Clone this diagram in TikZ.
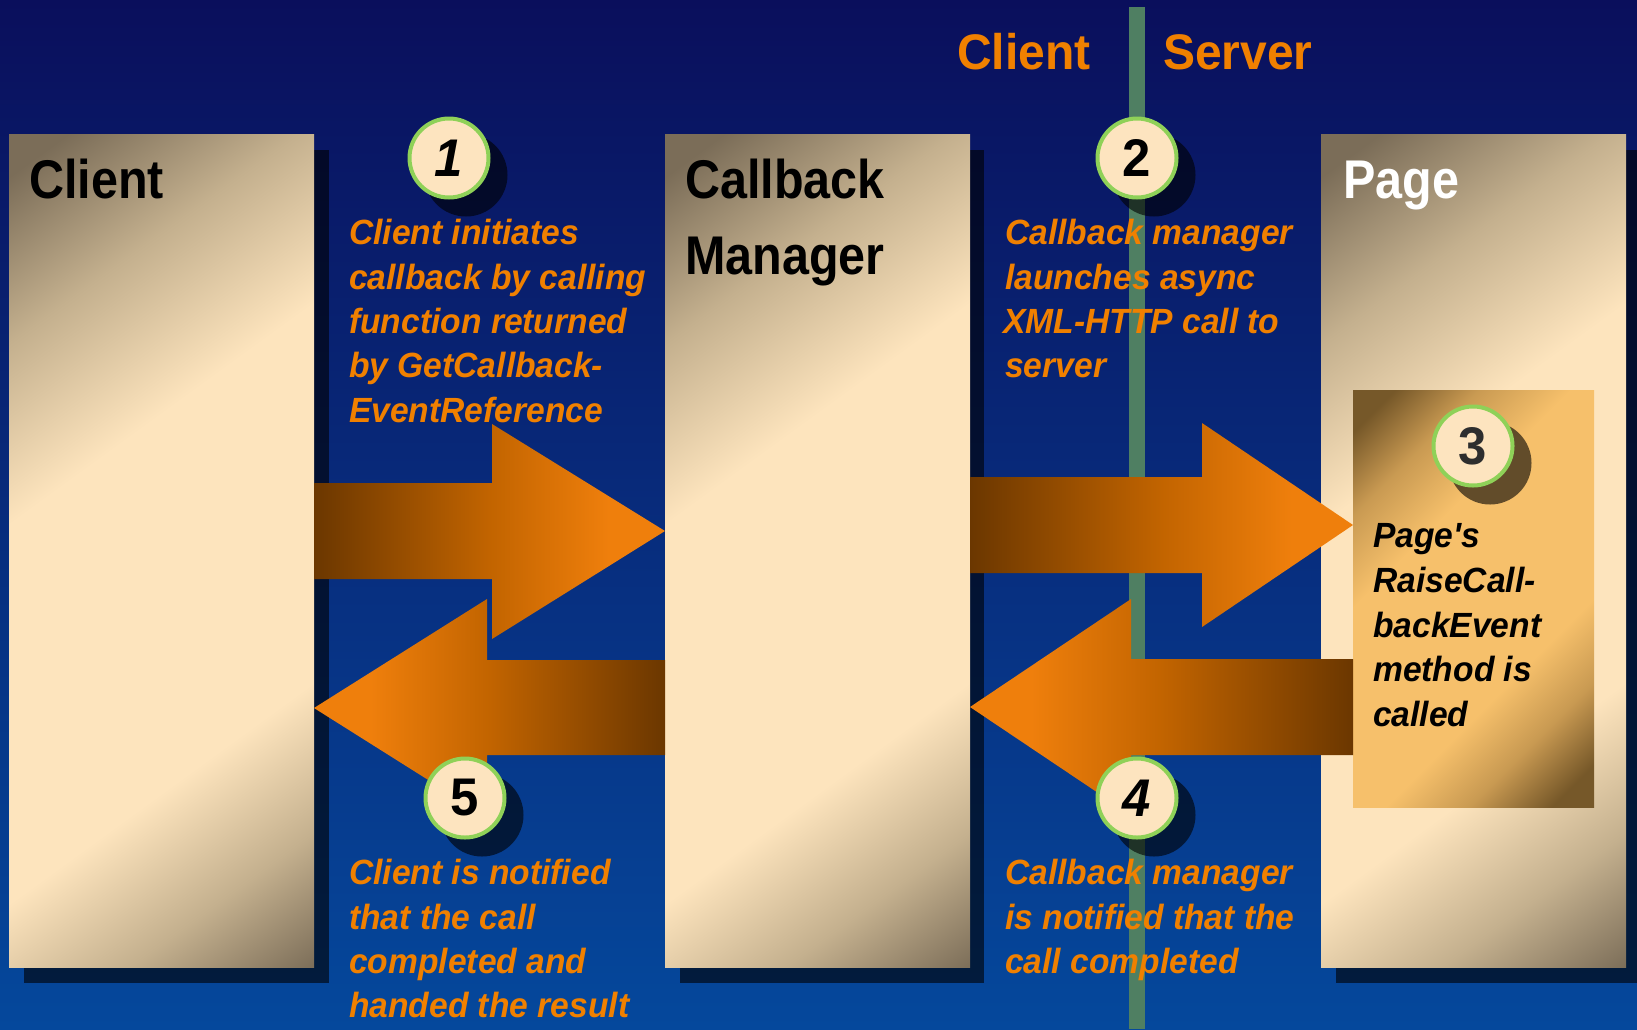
\documentclass[tikz,border=0pt]{standalone}
\usepackage{fontspec}
\setmainfont{Liberation Sans}
\newfontfamily\bodyfont[FakeStretch=0.96]{Liberation Sans}
\newfontfamily\colfont[FakeStretch=0.89]{Liberation Sans}

\definecolor{bgtop}{HTML}{0A0F5C}
\definecolor{bgmid}{HTML}{06287A}
\definecolor{bgbot}{HTML}{05489C}
\definecolor{gline}{HTML}{4F7F62}
\definecolor{cdark}{HTML}{7B6D58}
\definecolor{cmid}{HTML}{C4B08E}
\definecolor{clight}{HTML}{FDE4BD}
\definecolor{pdark}{HTML}{765829}
\definecolor{pmid}{HTML}{C99A52}
\definecolor{plight}{HTML}{F6C06B}
\definecolor{adark}{HTML}{6B3700}
\definecolor{amid}{HTML}{C26400}
\definecolor{aorange}{HTML}{EF7F0C}
\definecolor{txtorange}{HTML}{F08000}
\definecolor{circfill}{HTML}{FDE4BF}
\definecolor{circgreen}{HTML}{8FD158}
\definecolor{numgray}{HTML}{2E2E2E}

\pgfdeclarehorizontalshading{colshade}{100bp}{color(0bp)=(cdark); color(18bp)=(cdark); color(29bp)=(cmid); color(41bp)=(clight); color(66bp)=(clight); color(76bp)=(cmid); color(85bp)=(cdark); color(100bp)=(cdark)}
\pgfdeclarehorizontalshading{innershade}{100bp}{color(0bp)=(pdark); color(19bp)=(pdark); color(28bp)=(pmid); color(38bp)=(plight); color(63bp)=(plight); color(72bp)=(pmid); color(81bp)=(pdark); color(100bp)=(pdark)}
\pgfdeclarehorizontalshading{arrowR}{100bp}{color(0bp)=(adark); color(25bp)=(adark); color(50bp)=(amid); color(67bp)=(aorange); color(100bp)=(aorange)}
\pgfdeclarehorizontalshading{arrowL}{100bp}{color(0bp)=(aorange); color(33bp)=(aorange); color(50bp)=(amid); color(75bp)=(adark); color(100bp)=(adark)}

\begin{document}
\begin{tikzpicture}[x=1pt,y=-1pt,
  colbox/.style={rectangle, inner sep=0pt, outer sep=0pt, shading=colshade, shading angle=-54, minimum width=305pt, minimum height=833pt},
  innerbox/.style={rectangle, inner sep=0pt, outer sep=0pt, shading=innershade, shading angle=-45},
  shadowc/.style={fill=black, fill opacity=0.6},
  colhead/.style={font=\colfont\bfseries\fontsize{54.5}{60}\selectfont, anchor=base west, inner sep=0pt},
  tophead/.style={font=\bodyfont\bfseries\fontsize{50}{55}\selectfont, text=txtorange, anchor=base west, inner sep=0pt},
  bodytxt/.style={font=\bodyfont\bfseries\itshape\fontsize{35}{44}\selectfont, text=txtorange, anchor=base west, inner sep=0pt},
  pagetxt/.style={font=\bodyfont\bfseries\itshape\fontsize{35}{44}\selectfont, text=black, anchor=base west, inner sep=0pt},
  numcirc/.style={circle, minimum size=79pt, inner sep=0pt, fill=circfill, draw=circgreen, line width=4pt, font=\bodyfont\bfseries\fontsize{53}{56}\selectfont},
  rightarrow/.style={shading=arrowR},
  leftarrow/.style={shading=arrowL}
]
\useasboundingbox (0,0) rectangle (1637,1029);
% background
\shade[top color=bgtop, middle color=bgmid, bottom color=bgbot] (0,0) rectangle (1637,1029);
% client/server divider
\fill[gline] (1129,7) rectangle (1145,1029);

% column shadows
\fill[shadowc] (24,150) rectangle (329,983);
\fill[shadowc] (680,150) rectangle (984,983);
\fill[shadowc] (1336,150) rectangle (1640,983);

% columns
\node[colbox, shade, anchor=north west] (client) at (9,134) {};
\node[colbox, shade, anchor=north west] (manager) at (665,134) {};
\node[colbox, shade, anchor=north west] (page) at (1321,134) {};
\node[innerbox, shade, minimum width=241pt, minimum height=417pt, anchor=north west] (inner) at (1353,390) {};

% column headings
\node[colhead] (hclient) at (29,198) {Client};
\node[colhead] (hcall) at (685,198) {Callback};
\node[colhead] (hman) at (685,274) {Manager};
\node[colhead, text=white] (hpage) at (1343,198) {Page};

% top headings
\node[tophead] (topclient) at (957,69) {Client};
\node[tophead] (topserver) at (1163,69) {Server};

% block arrows
\shade[rightarrow]
  (client.east |- 0,483) -- (492,483) -- (492,424) -- (manager.west |- 0,531) -- (492,639) -- (492,579) -- (client.east |- 0,579) -- cycle;
\shade[rightarrow]
  (manager.east |- 0,477) -- (1202,477) -- (1202,423) -- (inner.west |- 0,525) -- (1202,627) -- (1202,573) -- (manager.east |- 0,573) -- cycle;
\shade[leftarrow]
  (client.east |- 0,708) -- (487,599) -- (487,660) -- (manager.west |- 0,660) -- (manager.west |- 0,755) -- (487,755) -- (487,817) -- cycle;
\shade[leftarrow]
  (manager.east |- 0,707) -- (1131,599) -- (1131,659) -- (inner.west |- 0,659) -- (inner.west |- 0,755) -- (1131,755) -- (1131,815) -- cycle;

% text block 1
\node[bodytxt] (t1a) at (349,244) {Client initiates};
\node[bodytxt] (t1b) at (349,289) {callback by calling};
\node[bodytxt] (t1c) at (349,333) {function returned};
\node[bodytxt] (t1d) at (349,377) {by GetCallback-};
\node[bodytxt] (t1e) at (349,422) {EventReference};
% text block 2
\node[bodytxt] (t2a) at (1005,244) {Callback manager};
\node[bodytxt] (t2b) at (1005,289) {launches async};
\node[bodytxt] (t2c) at (1003,333) {XML-HTTP call to};
\node[bodytxt] (t2d) at (1005,377) {server};
% text block 3
\node[pagetxt] (t3a) at (1373,547) {Page\textquotesingle s};
\node[pagetxt] (t3b) at (1373,592) {RaiseCall-};
\node[pagetxt] (t3c) at (1373,637) {backEvent};
\node[pagetxt] (t3d) at (1373,681) {method is};
\node[pagetxt] (t3e) at (1373,726) {called};
% text block 4
\node[bodytxt] (t4a) at (1005,884) {Callback manager};
\node[bodytxt] (t4b) at (1005,929) {is notified that the};
\node[bodytxt] (t4c) at (1005,973) {call completed};
% text block 5
\node[bodytxt] (t5a) at (349,884) {Client is notified};
\node[bodytxt] (t5b) at (349,929) {that the call};
\node[bodytxt] (t5c) at (349,973) {completed and};
\node[bodytxt] (t5d) at (349,1017) {handed the result};

% numbered circles with shadows
\coordinate (c1) at (449,158);
\coordinate (c2) at (1137,158);
\coordinate (c3) at (1473,446);
\coordinate (c4) at (1137,798);
\coordinate (c5) at (465,798);
\foreach \c in {c1,c2,c3,c4,c5}{
  \fill[shadowc] ([shift={(17,17)}]\c) circle[radius=41.5];
}
\node[numcirc] (n1) at (c1) {\itshape 1};
\node[numcirc] (n2) at (c2) {2};
\node[numcirc, text=numgray] (n3) at (c3) {3};
\node[numcirc] (n4) at (c4) {\itshape 4};
\node[numcirc] (n5) at (c5) {5};
\end{tikzpicture}
\end{document}
